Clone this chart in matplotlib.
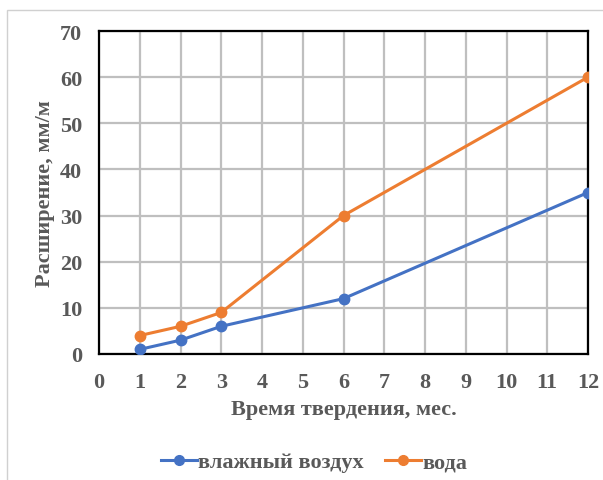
import matplotlib.pyplot as plt
from matplotlib.patches import Rectangle
from matplotlib.lines import Line2D

# data
months = [1, 2, 3, 6, 12]
humid_air = [1, 3, 6, 12, 35]
water = [4, 6, 9, 30, 60]
series_names = ['влажный воздух', 'вода']

plt.rcParams['font.family'] = ['Liberation Serif', 'DejaVu Serif']
plt.rcParams['font.weight'] = 'bold'
GREY = '#595959'

fig = plt.figure(figsize=(6.03, 4.81), dpi=100)
ax = fig.add_axes([99/603, 1-355/481, (588-99)/603, (355-32)/481])

# chart area frame
fig.patches.append(Rectangle((7/603, -0.1), 1.0, 1-11/481+0.1, transform=fig.transFigure,
                             fill=False, edgecolor='#D0D0D0', linewidth=1.0))

ax.plot(months, humid_air, color='#4472C4', lw=2.2, marker='o', ms=7.5, label=series_names[0], zorder=3)
ax.plot(months, water, color='#ED7D31', lw=2.2, marker='o', ms=7.5, label=series_names[1], zorder=3)

ax.set_xlim(0, 12)
ax.set_ylim(0, 70)
ax.set_xticks(range(0, 13))
ax.set_yticks(range(0, 71, 10))
ax.grid(True, color='#BFBFBF', lw=1.6)
ax.set_axisbelow(True)
for s in ax.spines.values():
    s.set_color('black')
    s.set_linewidth(1.6)
ax.tick_params(length=0, labelsize=16, labelcolor=GREY)
ax.tick_params(axis='y', pad=12)
ax.tick_params(axis='x', pad=13)
for lbl in ax.get_xticklabels() + ax.get_yticklabels():
    lbl.set_fontweight('bold')

ax.set_xlabel('Время твердения, мес.', fontsize=16, color=GREY, fontweight='bold', labelpad=5)
ax.set_ylabel('Расширение, мм/м', fontsize=16, color=GREY, fontweight='bold', labelpad=4)

handles = [Line2D([], [], color='#4472C4', lw=2.2, marker='o', ms=7),
           Line2D([], [], color='#ED7D31', lw=2.2, marker='o', ms=7)]
leg = fig.legend(handles, series_names, loc='center', bbox_to_anchor=(314/603, 1-463/481),
                 ncol=2, frameon=False, fontsize=16, handlelength=1.6, handletextpad=0.05,
                 columnspacing=1.0)
for t in leg.get_texts():
    t.set_color(GREY)
    t.set_fontweight('bold')

fig.savefig('out.png', dpi=100)
